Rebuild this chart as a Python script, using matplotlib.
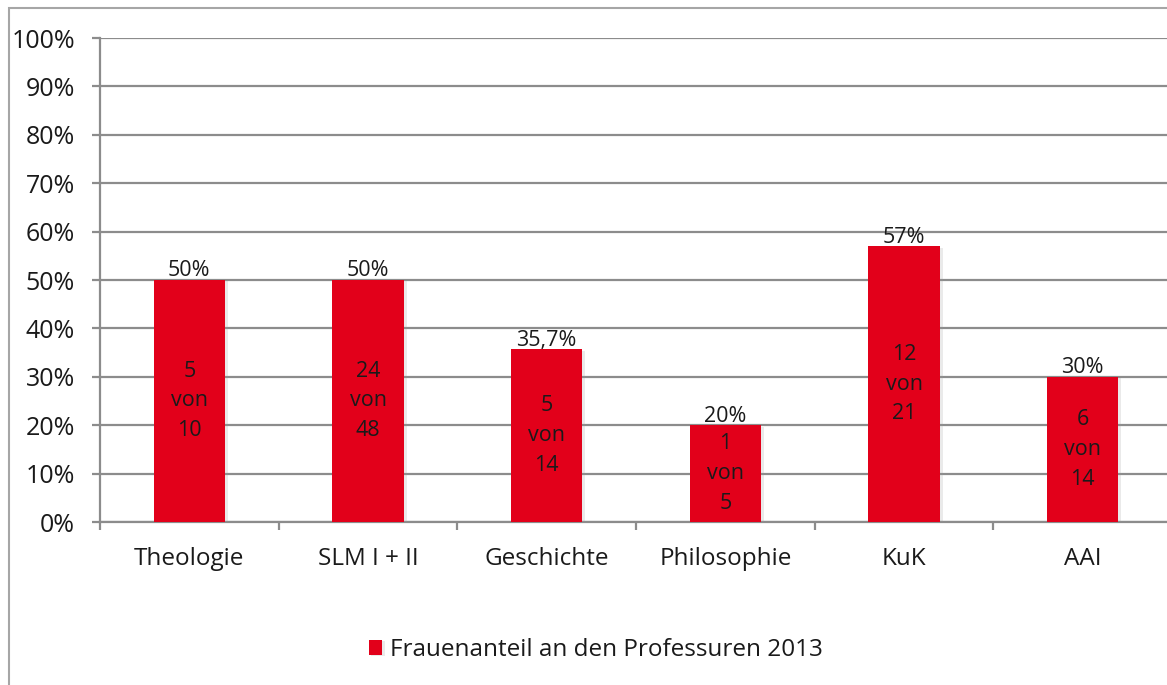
import matplotlib.pyplot as plt
import matplotlib.patheffects as pe
from matplotlib.patches import Rectangle

categories = ["Theologie", "SLM I + II", "Geschichte", "Philosophie", "KuK", "AAI"]
shares = [50, 50, 35.7, 20, 57, 30]
share_labels = ["50%", "50%", "35,7%", "20%", "57%", "30%"]
women = [5, 24, 5, 1, 12, 6]
totals = [10, 48, 14, 5, 21, 14]
series_name = "Frauenanteil an den Professuren 2013"

red = "#E2001A"
grey = "#8c8c8c"
plt.rcParams["font.family"] = ["Open Sans", "DejaVu Sans"]

fig = plt.figure(figsize=(11.67, 6.85), dpi=100)
# outer chart frame (right and bottom edges are cut off in the original)
fig.patches.append(Rectangle((9 / 1167, -0.1), 1.2, 1 - 8 / 685 + 0.1,
                             transform=fig.transFigure, fill=False,
                             edgecolor="#a6a6a6", linewidth=1.5))

ax = fig.add_axes([100 / 1167, 1 - 522 / 685, 1072 / 1167, 484 / 685])
x = range(len(categories))
bars = ax.bar(x, shares, width=0.4, color=red, label=series_name, zorder=3)
for b in bars:
    b.set_path_effects([pe.SimplePatchShadow(offset=(2, -1), shadow_rgbFace="#999999", alpha=0.2),
                        pe.Normal()])

for i, b in enumerate(bars):
    ax.text(i, shares[i] - 0.3, share_labels[i], ha="center", va="bottom",
            fontsize=15.5, color="#1a1a1a", zorder=4)
    ax.text(i, shares[i] / 2, f"{women[i]}\nvon\n{totals[i]}", ha="center",
            va="center", fontsize=15.5, color="#1a1a1a", linespacing=1.55, zorder=4)

ax.set_xlim(-0.5, 5.5)
ax.set_ylim(0, 100)
ax.set_yticks(range(0, 101, 10))
ax.set_yticklabels([f"{v}%" for v in range(0, 101, 10)], fontsize=18, color="#1a1a1a")
ax.yaxis.grid(True, color=grey, linewidth=1.6, zorder=0)
ax.set_axisbelow(True)

ax.set_xticks([i - 0.5 for i in range(len(categories) + 1)])
ax.set_xticklabels([])
ax.set_xticks(list(x), minor=True)
ax.set_xticklabels(categories, minor=True, fontsize=17.5, color="#1a1a1a")
ax.tick_params(axis="x", which="major", length=6, width=1.6, color=grey)
ax.tick_params(axis="x", which="minor", length=0, pad=18)
ax.tick_params(axis="y", length=6, width=1.6, color=grey, pad=12)

for s in ["top", "right"]:
    ax.spines[s].set_visible(False)
for s in ["left", "bottom"]:
    ax.spines[s].set_color(grey)
    ax.spines[s].set_linewidth(1.6)

leg = fig.legend(handles=[bars], labels=[series_name], loc="center",
                 bbox_to_anchor=(596 / 1167, 1 - 650 / 685), frameon=False,
                 fontsize=17.5, handlelength=0.55, handleheight=0.55, handletextpad=0.35)
for t in leg.get_texts():
    t.set_color("#1a1a1a")

fig.savefig("out.png", dpi=100)
